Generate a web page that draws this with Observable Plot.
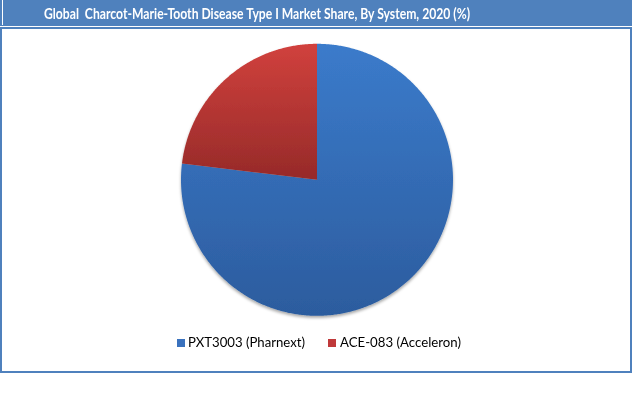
<!DOCTYPE html>
<html>
<head>
<meta charset="utf-8">
<script src="https://cdn.jsdelivr.net/npm/d3@7"></script>
<script src="https://cdn.jsdelivr.net/npm/@observablehq/plot@0.6"></script>
<style>
  html, body { margin: 0; padding: 0; background: #fff; }
  body { width: 641px; height: 410px; position: relative; overflow: hidden; font-family: Lato, "Open Sans", sans-serif; }
  .abs { position: absolute; }
  #banner { left: 0; top: 0; width: 632px; height: 26px; background: #4F81BD; }
  #bannerWhite { left: 2px; top: 0; width: 1px; height: 25px; background: #fff; }
  #hline { left: 0; top: 27px; width: 632px; height: 2px; background: #4F81BD; }
  #lborder { left: 0; top: 27px; width: 2px; height: 346px; background: #4F81BD; }
  #rborder { left: 630px; top: 27px; width: 2px; height: 346px; background: #4F81BD; }
  #bborder { left: 0; top: 371px; width: 632px; height: 2px; background: #4F81BD; }
  #title { left: 44px; top: 3.5px; color: #fff; font-weight: bold; font-size: 15.5px; line-height: 18px; white-space: pre; transform-origin: 0 0; }
  #chart { left: 2px; top: 30px; }
  .lgtext { font-size: 14px; line-height: 14px; white-space: pre; color: #000; transform-origin: 0 0; }
  .sw { width: 8px; height: 8px; }
</style>
</head>
<body>
<div id="banner" class="abs"></div>
<div id="bannerWhite" class="abs"></div>
<div id="hline" class="abs"></div>
<div id="lborder" class="abs"></div>
<div id="rborder" class="abs"></div>
<div id="bborder" class="abs"></div>
<div id="title" class="abs"></div>
<div id="chart" class="abs"></div>
<div id="legend"></div>
<script>
// ---- Data ----
const titleText = "Global  Charcot-Marie-Tooth Disease Type I Market Share, By System, 2020 (%)";
const systems = ["PXT3003 (Pharnext)", "ACE-083 (Acceleron)"];
const shares = [76.9, 23.1];
const sliceFills = ["url(#gBlue)", "url(#gRed)"];
const swatchColors = ["#3A72BE", "#C0393A"];

// ---- Title ----
const titleEl = document.getElementById("title");
titleEl.textContent = titleText;
const tw = titleEl.getBoundingClientRect().width;
titleEl.style.transform = `scaleX(${426 / tw})`;

// ---- Pie geometry via d3.pie (angles from the data) ----
const W = 628, H = 300, R = 136, cx = 314.5, cy = 149.3;
const arcs = d3.pie().sort(null).value(d => d)(shares);
const rows = [];
arcs.forEach((a, i) => {
  rows.push({system: systems[i], x: 0, y: 0});
  const n = Math.max(2, Math.ceil((a.endAngle - a.startAngle) / (Math.PI / 360)));
  for (let k = 0; k <= n; k++) {
    const t = a.startAngle + (a.endAngle - a.startAngle) * k / n;
    rows.push({system: systems[i], x: Math.sin(t), y: Math.cos(t)});
  }
  rows.push({system: systems[i], x: 0, y: 0});
});

const svg = Plot.plot({
  width: W,
  height: H,
  margin: 0,
  style: {background: "transparent"},
  x: {domain: [-cx / R, (W - cx) / R], axis: null},
  y: {domain: [-(H - cy) / R, cy / R], axis: null},
  color: {domain: systems, range: sliceFills},
  marks: [
    Plot.line(rows, {x: "x", y: "y", z: "system", fill: "system", stroke: "none", curve: "linear"})
  ]
});

const defs = d3.select(svg).insert("defs", ":first-child");
const gb = defs.append("linearGradient").attr("id", "gBlue").attr("x1", 0).attr("y1", 0).attr("x2", 0).attr("y2", 1);
gb.append("stop").attr("offset", "0%").attr("stop-color", "#3B7BCB");
gb.append("stop").attr("offset", "100%").attr("stop-color", "#2C5C9E");
const gr = defs.append("linearGradient").attr("id", "gRed").attr("x1", 0).attr("y1", 0).attr("x2", 0).attr("y2", 1);
gr.append("stop").attr("offset", "0%").attr("stop-color", "#D1413D");
gr.append("stop").attr("offset", "100%").attr("stop-color", "#962A29");
const f = defs.append("filter").attr("id", "sh").attr("x", "-10%").attr("y", "-10%").attr("width", "120%").attr("height", "125%");
f.append("feDropShadow").attr("dx", 0).attr("dy", 2).attr("stdDeviation", 1.6).attr("flood-color", "#000").attr("flood-opacity", 0.35);
d3.select(svg).selectAll("g[aria-label=line]").attr("filter", "url(#sh)");

document.getElementById("chart").appendChild(svg);

// ---- Legend ----
const legend = document.getElementById("legend");
const swX = [177, 328], txX = [188, 340], txW = [117, 121];
systems.forEach((s, i) => {
  const sw = document.createElement("div");
  sw.className = "abs sw";
  sw.style.left = swX[i] + "px";
  sw.style.top = "339px";
  sw.style.background = swatchColors[i];
  legend.appendChild(sw);
  const t = document.createElement("div");
  t.className = "abs lgtext";
  t.style.left = txX[i] + "px";
  t.style.top = "335px";
  t.textContent = s;
  legend.appendChild(t);
  const w = t.getBoundingClientRect().width;
  t.style.transform = `scaleX(${txW[i] / w})`;
});
</script>
</body>
</html>
